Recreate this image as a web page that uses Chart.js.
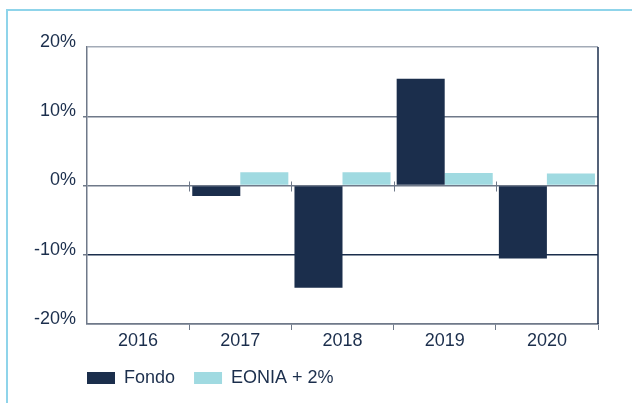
<!DOCTYPE html>
<html>
<head>
<meta charset="utf-8">
<script src="https://cdn.jsdelivr.net/npm/chart.js@4.4.1/dist/chart.umd.min.js"></script>
<style>
    body { margin: 0; background: #fff; }
    .frame { position: absolute; left: 6px; top: 9px; width: 626px; height: 394px;
             border-left: 2px solid #8fd4ea; border-top: 2px solid #8fd4ea; }
    .wrap { position: absolute; left: 0; top: 0; width: 632px; height: 403px; }
</style>
</head>
<body>
<div class="frame"></div>
<div class="wrap"><canvas id="perfChart"></canvas></div>
<script>
// Rendimento annuo
const anni = ['2016', '2017', '2018', '2019', '2020'];
const fondo = [null, -1.5, -14.75, 15.4, -10.55];
const eonia = [null, 1.9, 1.9, 1.8, 1.75];
const yTicks = [-20, -10, 0, 10, 20];

const NAVY = '#1b2e4c';
const TEAL = '#a0dae1';
const GRIGIO = '#6f7989';

// bordo destro + tacche sulla linea dello zero
const extras = {
    id: 'extras',
    afterLayout(chart) {
        const lg = chart.legend;
        lg.left = chart.chartArea.left - lg.options.labels.padding;
    },
    afterDatasetsDraw(chart) {
        const { ctx, chartArea, scales: { x, y } } = chart;
        ctx.save();
        ctx.strokeStyle = NAVY;
        ctx.lineWidth = 1.5;
        ctx.beginPath();
        ctx.moveTo(chartArea.right, chartArea.top);
        ctx.lineTo(chartArea.right, chartArea.bottom);
        ctx.stroke();

        const y0 = Math.round(y.getPixelForValue(0)) + 0.5;
        ctx.strokeStyle = GRIGIO;
        ctx.lineWidth = 1;
        for (let i = 1; i < anni.length; i++) {
            const xb = Math.round((x.getPixelForTick(i - 1) + x.getPixelForTick(i)) / 2) + 0.5;
            ctx.beginPath();
            ctx.moveTo(xb, y0 - 5);
            ctx.lineTo(xb, y0 + 5);
            ctx.stroke();
        }
        ctx.restore();
    }
};

Chart.defaults.font.family = "'Liberation Sans', Arial, sans-serif";
Chart.defaults.font.size = 18;
Chart.defaults.color = NAVY;

new Chart(document.getElementById('perfChart'), {
    type: 'bar',
    data: {
        labels: anni,
        datasets: [
            { label: 'Fondo', data: fondo, backgroundColor: NAVY },
            { label: 'EONIA + 2%', data: eonia, backgroundColor: TEAL }
        ]
    },
    options: {
        responsive: true,
        maintainAspectRatio: false,
        animation: false,
        categoryPercentage: 0.94,
        barPercentage: 1,
        layout: { padding: { top: 47, right: 34, left: 0, bottom: 6 } },
        plugins: {
            legend: {
                position: 'bottom',
                align: 'start',
                labels: { boxWidth: 28, boxHeight: 12, padding: 19, color: NAVY }
            },
            tooltip: { enabled: false }
        },
        scales: {
            x: {
                grid: {
                    offset: true,
                    drawOnChartArea: false,
                    tickLength: 6,
                    color: GRIGIO,
                    tickColor: c => (c.index === 0 || c.index === anni.length) ? 'rgba(0,0,0,0)' : GRIGIO
                },
                border: { color: GRIGIO, width: 1.5 },
                ticks: { padding: 0, color: NAVY },
                afterFit: s => { s.height = 26; }
            },
            y: {
                min: -20,
                max: 20,
                afterBuildTicks: s => { s.ticks = yTicks.map(v => ({ value: v })); },
                grid: {
                    tickLength: 4,
                    lineWidth: 1.5,
                    color: c => {
                        if (c.tick.value === 20) return '#a3abb7';
                        if (c.tick.value === -10) return NAVY;
                        return GRIGIO;
                    },
                    tickColor: c => Math.abs(c.tick.value) === 20 ? 'rgba(0,0,0,0)' : GRIGIO
                },
                border: { color: GRIGIO, width: 1.5 },
                ticks: {
                    padding: 7,
                    labelOffset: -5,
                    color: NAVY,
                    callback: v => v + '%'
                },
                afterFit: s => { s.width = 87; }
            }
        }
    },
    plugins: [extras]
});
</script>
</body>
</html>
